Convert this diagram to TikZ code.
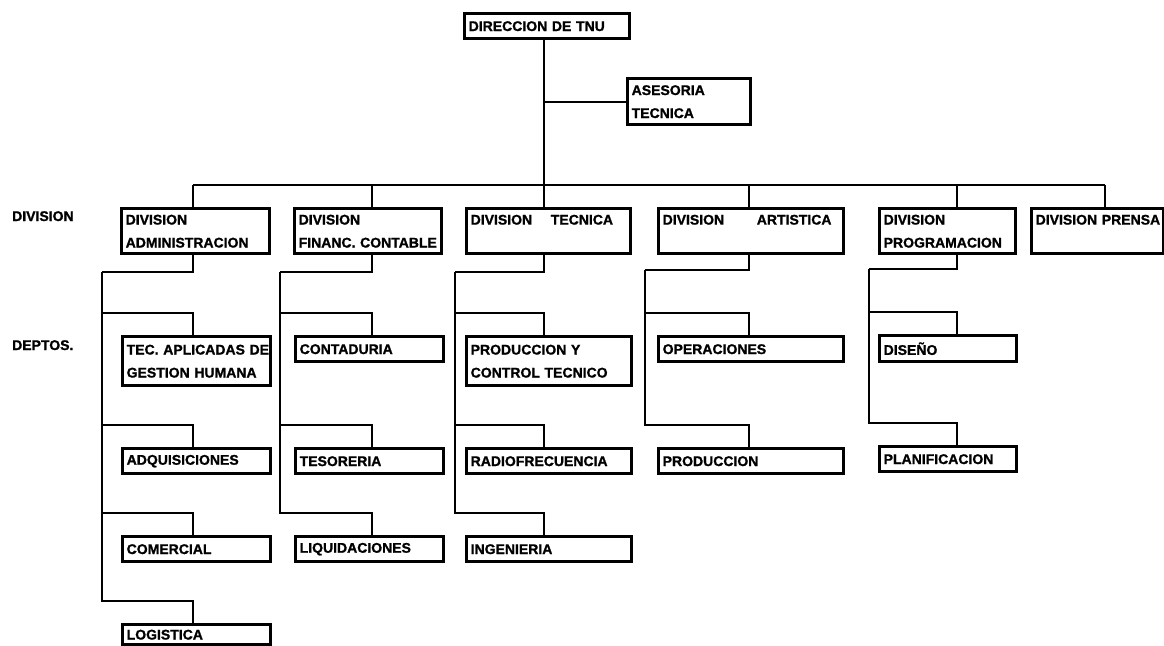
\documentclass[tikz,border=0pt]{standalone}
\usepackage{fontspec}
\setmainfont{Liberation Sans}[BoldFeatures={FakeBold=1.2}]
\tikzset{
 box/.style={draw, line width=3.4pt, anchor=north west, inner xsep=4pt, inner ysep=0pt,
   align=left, font=\bfseries\fontsize{14}{23}\selectfont},
 conn/.style={line width=2pt},
 lbl/.style={anchor=base west, inner sep=0pt, font=\bfseries\fontsize{14}{17}\selectfont}
}
\newcommand\bx[6]{%
 \pgfmathsetmacro\bxw{#4-#2}\pgfmathsetmacro\bxh{#5-#3}\pgfmathsetmacro\bxt{#4-#2-8}%
 \node[box,minimum width=\bxw pt,minimum height=\bxh pt,text width=\bxt pt] (#1) at (#2,#3) {#6};}
\begin{document}
\begin{tikzpicture}[x=1pt,y=-1pt]
\useasboundingbox (0,0) rectangle (1164,645);
\fill[white] (0,0) rectangle (1164,645);
% top
\bx{dir}{463}{12}{628}{37}{\mbox{DIRECCION DE TNU}}
\bx{ase}{626}{77}{749}{123}{ASESORIA\\TECNICA}
% divisions
\bx{dadm}{120}{207}{268}{252}{DIVISION\\\mbox{ADMINISTRACION}}
\bx{dfin}{293}{207}{440}{252}{DIVISION\\\mbox{FINANC. CONTABLE}}
\bx{dtec}{465}{207}{629}{252}{\mbox{DIVISION\hspace{14pt} TECNICA}\\\mbox{}}
\bx{dart}{657}{207}{842}{252}{\mbox{DIVISION\hspace{28pt} ARTISTICA}\\\mbox{}}
\bx{dpro}{878}{207}{1014}{252}{DIVISION\\\mbox{PROGRAMACION}}
\bx{dpre}{1030}{207}{1162}{252}{\mbox{DIVISION PRENSA}\\\mbox{}}
% departments
\bx{a1}{121}{335}{269}{384}{\mbox{TEC. APLICADAS DE}\\\mbox{GESTION HUMANA}}
\bx{a2}{121}{447}{269}{472}{ADQUISICIONES}
\bx{a3}{121}{535}{269}{560}{COMERCIAL}
\bx{a4}{121}{623}{269}{643}{LOGISTICA}
\bx{f1}{294}{335}{442}{360}{CONTADURIA}
\bx{f2}{294}{447}{442}{472}{TESORERIA}
\bx{f3}{294}{535}{442}{560}{LIQUIDACIONES}
\bx{t1}{465}{335}{630}{384}{\mbox{PRODUCCION Y}\\\mbox{CONTROL TECNICO}}
\bx{t2}{465}{447}{630}{472}{RADIOFRECUENCIA}
\bx{t3}{465}{535}{630}{560}{INGENIERIA}
\bx{r1}{657}{335}{842}{360}{OPERACIONES}
\bx{r2}{657}{447}{842}{472}{PRODUCCION}
\bx{p1}{878}{334}{1015}{360}{DISEÑO}
\bx{p2}{878}{445}{1015}{470}{PLANIFICACION}
% side labels
\node[lbl] (lbdiv) at (12,221) {DIVISION};
\node[lbl] (lbdep) at (12,350) {DEPTOS.};
% coordinates
\coordinate (mx) at (544,0);
\coordinate (busL) at (193,185);
\coordinate (busR) at (1105,185);
\coordinate (admS) at (193,272); \coordinate (admT) at (102,272);
\coordinate (finS) at (372,272); \coordinate (finT) at (280,272);
\coordinate (tecS) at (544,272); \coordinate (tecT) at (455,272);
\coordinate (artS) at (749,270); \coordinate (artT) at (645,270);
\coordinate (proS) at (957,269); \coordinate (proT) at (869,269);
% top connectors
\draw[conn] (dir.south -| mx) -- (dtec.north -| mx);
\draw[conn] (ase.west) -- (ase.west -| mx);
\draw[conn] (busL) -- (busR);
\draw[conn] (dadm.north -| busL) -- (busL);
\draw[conn] (dfin.north -| finS) -- (finS |- busL);
\draw[conn] (dart.north -| artS) -- (artS |- busL);
\draw[conn] (dpro.north -| proS) -- (proS |- busL);
\draw[conn] (dpre.north -| busR) -- (busR);
% stems
\draw[conn] (dadm.south -| admS) -- (admS) -- (admT);
\draw[conn] (dfin.south -| finS) -- (finS) -- (finT);
\draw[conn] (dtec.south -| tecS) -- (tecS) -- (tecT);
\draw[conn] (dart.south -| artS) -- (artS) -- (artT);
\draw[conn] (dpro.south -| proS) -- (proS) -- (proT);
% branches
\foreach \b in {a1,a2,a3,a4} \draw[conn] (\b.north -| admS) -- ++(0,-22) -| (admT);
\foreach \b in {f1,f2,f3} \draw[conn] (\b.north -| finS) -- ++(0,-22) -| (finT);
\foreach \b in {t1,t2,t3} \draw[conn] (\b.north -| tecS) -- ++(0,-22) -| (tecT);
\foreach \b in {r1,r2} \draw[conn] (\b.north -| artS) -- ++(0,-22) -| (artT);
\foreach \b in {p1,p2} \draw[conn] (\b.north -| proS) -- ++(0,-22) -| (proT);
\end{tikzpicture}
\end{document}
